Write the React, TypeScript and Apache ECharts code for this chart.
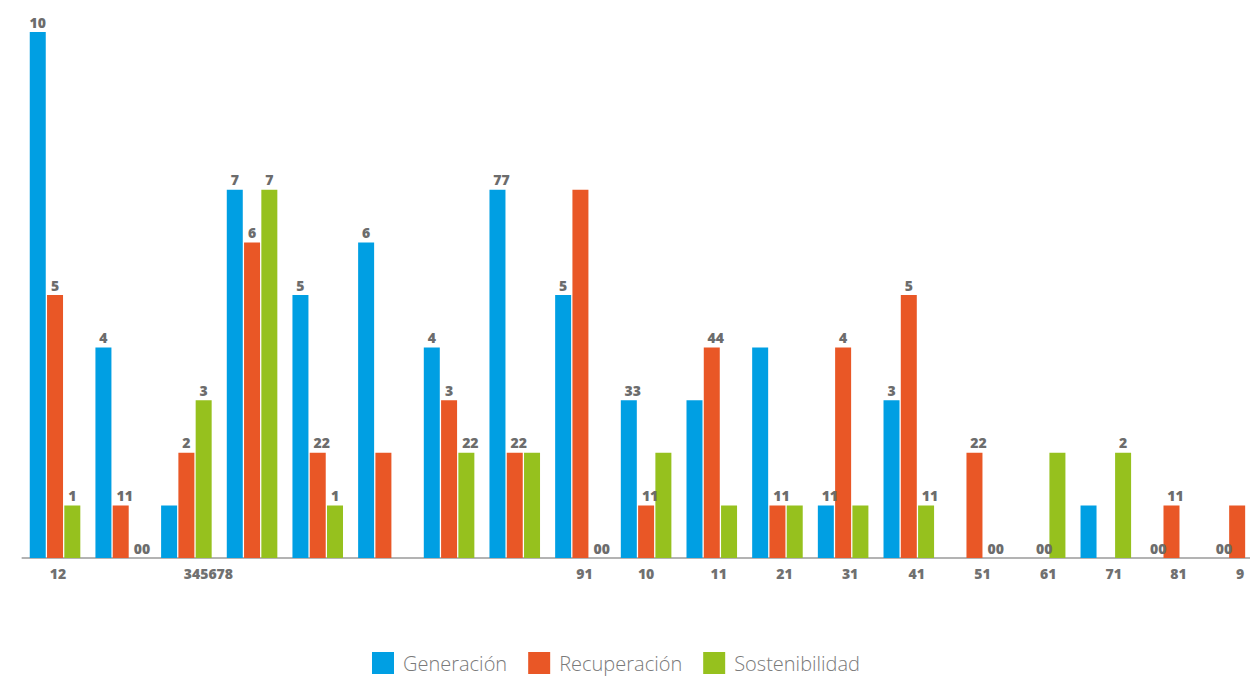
import React, { useEffect, useRef } from "react";
import * as echarts from "echarts";

// x-axis tick labels as shown in the reference
const categories = ["12", "", "345678", "", "", "", "", "", "91", "10", "11", "21", "31", "41", "51", "61", "71", "81", "9"];

const seriesNames = ["Generación", "Recuperación", "Sostenibilidad"];

const generacion = [10, 4, 1, 7, 5, 6, 4, 7, 5, 3, 3, 4, 1, 3, 0, 0, 1, 0, 0];
const recuperacion = [5, 1, 2, 6, 2, 2, 3, 2, 7, 1, 4, 1, 4, 5, 2, 0, 0, 1, 1];
const sostenibilidad = [1, 0, 3, 7, 1, 0, 2, 2, 0, 2, 1, 1, 1, 1, 0, 2, 2, 0, 0];

// value labels printed above the bars (as they appear in the reference)
const generacionLabels = ["10", "4", "", "7", "5", "6", "4", "77", "5", "33", "", "", "11", "3", "", "", "", "00", "00"];
const recuperacionLabels = ["5", "11", "2", "6", "22", "", "3", "22", "", "11", "44", "11", "4", "5", "22", "00", "", "11", ""];
const sostenibilidadLabels = ["1", "00", "3", "7", "1", "", "22", "", "00", "", "", "", "", "11", "00", "", "2", "", ""];

const colors = ["#009FE3", "#E95726", "#96C11E"];

// small horizontal nudges of the x tick labels (layout only)
const xLabelNudge = [3, 0, 22, 0, 0, 0, 0, 0, 4, 0, 7, 7, 7, 8, 8, 8, 8, 7, 3];

const FONT = "'Open Sans', 'DejaVu Sans', sans-serif";

function buildData(values: number[], labels: string[]) {
  return values.map((v, i) => {
    const txt = labels[i];
    const doubled = txt.length === 2 && txt[0] === txt[1];
    return {
      value: v,
      label: {
        show: txt !== "",
        formatter: txt,
        offset: doubled ? [4, 0] : [0, 0],
      },
    };
  });
}

export default function App() {
  const ref = useRef<HTMLDivElement>(null);

  useEffect(() => {
    if (!ref.current) return;
    const chart = echarts.init(ref.current, undefined, { renderer: "svg" });

    const rich: Record<string, any> = {};
    xLabelNudge.forEach((n) => {
      rich["s" + n] = { padding: [0, 0, 0, n * 2] };
    });

    const valueSets = [generacion, recuperacion, sostenibilidad];
    const labelSets = [generacionLabels, recuperacionLabels, sostenibilidadLabels];

    chart.setOption({
      animation: false,
      color: colors,
      grid: { left: 22.2, right: 0, top: 32, bottom: 118, containLabel: false },
      legend: {
        data: seriesNames,
        left: 372,
        top: 652,
        padding: 0,
        itemWidth: 22,
        itemHeight: 22,
        itemGap: 21,
        icon: "rect",
        textStyle: {
          fontSize: 20,
          color: "#7a7a7a",
          fontFamily: FONT,
          fontWeight: 300,
          padding: [0, 0, 0, 4],
        },
      },
      xAxis: {
        type: "category",
        data: categories,
        axisTick: { show: false },
        axisLine: { show: true, lineStyle: { color: "#9a9a9a", width: 1.5 } },
        axisLabel: {
          interval: 0,
          margin: 8,
          color: "#707070",
          fontWeight: 800,
          fontSize: 14,
          fontFamily: FONT,
          rich,
          formatter: (val: string, idx: number) => (val ? `{s${xLabelNudge[idx]}|${val}}` : ""),
        },
      },
      yAxis: {
        type: "value",
        show: false,
        min: 0,
        max: 10,
        splitLine: { show: false },
      },
      series: seriesNames.map((name, s) => ({
        name,
        type: "bar",
        barWidth: 16,
        barGap: "8%",
        data: buildData(valueSets[s], labelSets[s]),
        label: {
          show: true,
          position: "top",
          distance: 3,
          color: "#6c6c6c",
          fontWeight: 800,
          fontSize: 14,
          fontFamily: FONT,
        },
      })),
    });

    return () => chart.dispose();
  }, []);

  return (
    <div style={{ position: "absolute", left: 0, top: 0, width: 1250, height: 676, overflow: "hidden", background: "#fff" }}>
      <div ref={ref} style={{ width: 1270, height: 676 }} />
    </div>
  );
}
